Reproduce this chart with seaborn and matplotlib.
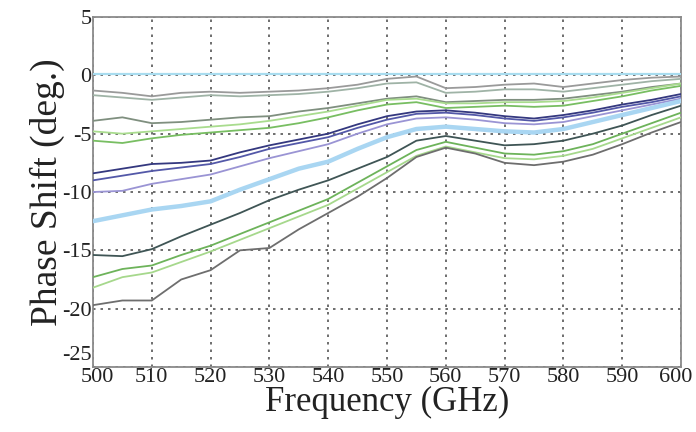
import numpy as np
import pandas as pd
import matplotlib
matplotlib.use("Agg")
import matplotlib.pyplot as plt
import matplotlib.transforms as mtransforms
import seaborn as sns

freq = [500, 505, 510, 515, 520, 525, 530, 535, 540, 545, 550,
        555, 560, 565, 570, 575, 580, 585, 590, 595, 600]

ref_zero = [0.1] * 21
grey_top = [-1.3, -1.5, -1.8, -1.5, -1.4, -1.5, -1.4, -1.3, -1.1, -0.8, -0.3,
            -0.1, -1.1, -1.0, -0.8, -0.7, -1.0, -0.7, -0.4, -0.2, -0.1]
grey_green = [-1.7, -1.9, -2.1, -1.9, -1.7, -1.8, -1.7, -1.6, -1.4, -1.1, -0.7,
              -0.6, -1.5, -1.4, -1.2, -1.2, -1.4, -1.1, -0.8, -0.5, -0.3]
mid_grey = [-3.9, -3.6, -4.1, -4.0, -3.8, -3.6, -3.5, -3.1, -2.8, -2.4, -2.0,
            -1.8, -2.3, -2.2, -2.1, -2.1, -2.0, -1.7, -1.4, -1.0, -0.7]
light_green_up = [-4.8, -5.0, -4.8, -4.6, -4.4, -4.2, -3.9, -3.5, -3.1, -2.6, -2.1,
                  -2.0, -2.4, -2.4, -2.3, -2.3, -2.2, -1.9, -1.5, -1.1, -0.7]
green_up = [-5.6, -5.8, -5.4, -5.1, -4.9, -4.7, -4.5, -4.1, -3.6, -3.0, -2.5,
            -2.3, -2.8, -2.7, -2.6, -2.7, -2.6, -2.2, -1.8, -1.3, -0.9]
navy_1 = [-8.4, -8.0, -7.6, -7.5, -7.3, -6.6, -6.0, -5.5, -5.0, -4.2, -3.5,
          -3.1, -3.0, -3.2, -3.5, -3.7, -3.4, -3.0, -2.5, -2.1, -1.6]
navy_2 = [-9.0, -8.6, -8.2, -7.9, -7.6, -7.0, -6.3, -5.8, -5.3, -4.5, -3.8,
          -3.3, -3.2, -3.4, -3.7, -3.9, -3.6, -3.2, -2.7, -2.3, -1.8]
purple = [-10.0, -9.9, -9.3, -8.9, -8.5, -7.8, -7.1, -6.5, -5.9, -5.0, -4.2,
          -3.7, -3.6, -3.8, -4.1, -4.2, -4.0, -3.5, -3.0, -2.5, -2.0]
light_blue = [-12.5, -12.0, -11.5, -11.2, -10.8, -9.8, -8.9, -8.0, -7.4, -6.3, -5.3,
              -4.6, -4.4, -4.6, -4.8, -4.9, -4.6, -4.0, -3.4, -2.8, -2.2]
dark_teal = [-15.4, -15.5, -14.9, -13.8, -12.8, -11.8, -10.7, -9.8, -9.0, -8.0, -7.0,
             -5.6, -5.2, -5.6, -6.0, -5.9, -5.6, -5.0, -4.3, -3.4, -2.6]
green_low = [-17.3, -16.6, -16.3, -15.4, -14.6, -13.6, -12.6, -11.6, -10.6, -9.2, -7.8,
             -6.4, -5.7, -6.2, -6.7, -6.8, -6.5, -5.9, -5.0, -4.1, -3.2]
light_green_low = [-18.2, -17.3, -16.9, -16.0, -15.1, -14.1, -13.1, -12.1, -11.1, -9.7, -8.3,
                   -6.9, -6.1, -6.6, -7.1, -7.2, -6.9, -6.3, -5.4, -4.5, -3.6]
grey_bottom = [-19.7, -19.3, -19.3, -17.5, -16.7, -15.0, -14.8, -13.2, -11.8, -10.4, -8.8,
               -7.0, -6.2, -6.7, -7.5, -7.7, -7.4, -6.8, -5.9, -4.9, -4.0]

series = {
    "ref_zero": ref_zero, "grey_top": grey_top, "grey_green": grey_green,
    "mid_grey": mid_grey, "light_green_up": light_green_up, "green_up": green_up,
    "navy_1": navy_1, "navy_2": navy_2, "purple": purple, "light_blue": light_blue,
    "dark_teal": dark_teal, "green_low": green_low,
    "light_green_low": light_green_low, "grey_bottom": grey_bottom,
}
colors = {
    "ref_zero": "#a8dcef", "grey_top": "#9a9a9a", "grey_green": "#9fb3a6",
    "mid_grey": "#7f8f7f", "light_green_up": "#a9dc8e", "green_up": "#78be62",
    "navy_1": "#34387f", "navy_2": "#5358a8", "purple": "#9a94d4",
    "light_blue": "#a9d6f2", "dark_teal": "#3f5555", "green_low": "#6db35a",
    "light_green_low": "#a6d88c", "grey_bottom": "#6e6e6e",
}
widths = {k: 1.3 for k in series}
widths["light_blue"] = 3.2
widths["ref_zero"] = 1.6

rows = []
for name, vals in series.items():
    for f, v in zip(freq, vals):
        rows.append({"freq": f, "phase": v, "curve": name})
df = pd.DataFrame(rows)

sns.set_style("white")
plt.rcParams["font.family"] = ["Liberation Serif", "DejaVu Serif"]
plt.rcParams["axes.unicode_minus"] = False

fig = plt.figure(figsize=(6.96, 4.32), dpi=100)
ax = fig.add_axes([0.1336, 0.1505, 0.8449, 0.8101])

for name in series:
    sub = df[df["curve"] == name]
    sns.lineplot(data=sub, x="freq", y="phase", color=colors[name],
                 lw=widths[name], ax=ax, legend=False, zorder=3)

ax.set_xlim(500, 600)
ax.set_ylim(-25, 5)
ax.set_xticks(range(500, 601, 10))
ax.set_yticks(range(-25, 6, 5))
ax.grid(True, color="#555555", linestyle=(0, (1.5, 3)), linewidth=1.2, zorder=1)
ax.set_axisbelow(True)
for s in ax.spines.values():
    s.set_color("#8a8a8a")
    s.set_linewidth(1.3)
ax.tick_params(direction="in", length=4, color="#8a8a8a", labelsize=16,
               labelcolor="#222222", pad=1)
ax.set_xlabel("Frequency (GHz)", fontsize=25, color="#222222", labelpad=-1)
ax.set_ylabel("Phase Shift (deg.)", fontsize=27, color="#222222", labelpad=-2)

# nudge crowded corner labels as in the reference
ylabels = ax.get_yticklabels()
ylabels[0].set_transform(ylabels[0].get_transform() +
                         mtransforms.ScaledTranslation(0, 10 / 72, fig.dpi_scale_trans))
xlabels = ax.get_xticklabels()
xlabels[-1].set_transform(xlabels[-1].get_transform() +
                          mtransforms.ScaledTranslation(-4 / 72, 0, fig.dpi_scale_trans))
xlabels[0].set_transform(xlabels[0].get_transform() +
                         mtransforms.ScaledTranslation(3 / 72, 0, fig.dpi_scale_trans))

fig.savefig("out.png", dpi=100)
